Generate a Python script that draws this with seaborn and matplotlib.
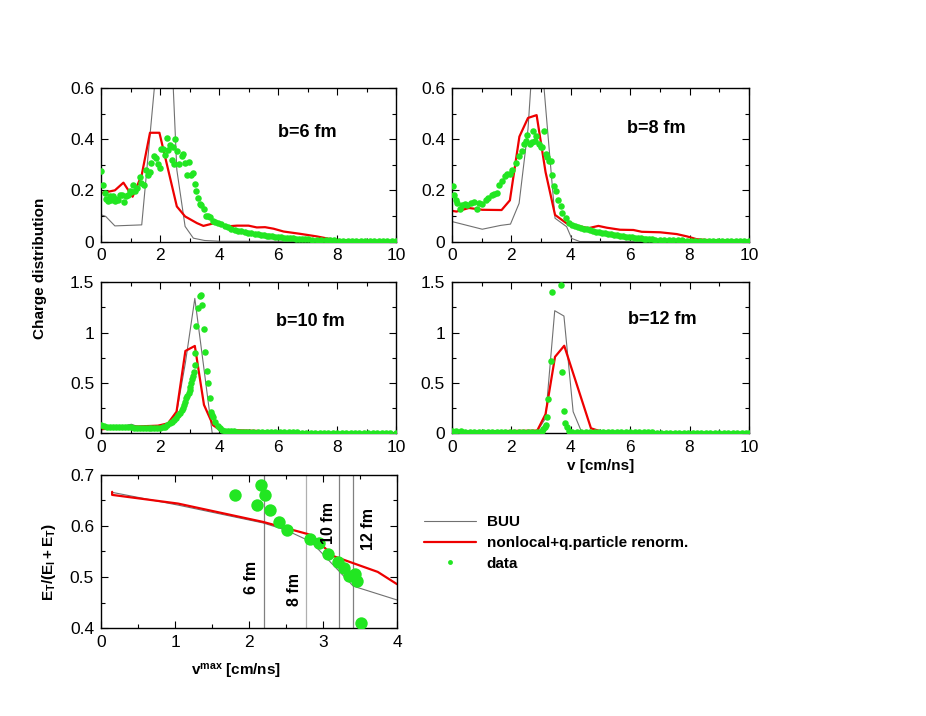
"""
Charge distributions vs velocity for four impact parameters, plus the
transverse energy ratio vs v_max (BUU vs nonlocal model vs data).
"""

import matplotlib

matplotlib.use("Agg")
import matplotlib.pyplot as plt
import seaborn as sns
from matplotlib.legend_handler import HandlerLine2D
from matplotlib.lines import Line2D
from matplotlib.ticker import FormatStrFormatter, FuncFormatter, MultipleLocator

# ---------------------------------------------------------------- data
# b = 6 fm
BUU_X6 = [0, 0.15, 0.46, 1.37, 1.95, 2.25, 2.56, 2.84, 3.12, 3.5, 4.0, 10]
BUU_Y6 = [0.104, 0.098, 0.061, 0.065, 0.79, 1.1, 0.28, 0.059, 0.013, 0.004, 0.001, 0.0]
RED_X6 = [0, 0.46, 0.75, 1.06, 1.37, 1.65, 1.97, 2.56, 2.84, 3.24, 3.46, 3.91, 4.25,
          4.6, 4.99, 5.27, 5.55, 5.84, 6.18, 6.74, 7.3, 7.65, 7.99, 8.78, 10]
RED_Y6 = [0.189, 0.2, 0.23, 0.175, 0.26, 0.425, 0.425, 0.137, 0.098, 0.072, 0.061, 0.074,
          0.059, 0.062, 0.062, 0.055, 0.056, 0.05, 0.039, 0.03, 0.02, 0.012, 0.006, 0.003, 0.001]
DAT_X6 = [0.0, 0.06, 0.11, 0.17, 0.23, 0.28, 0.34, 0.40, 0.45, 0.51,
          0.57, 0.62, 0.70, 0.77, 0.85, 0.91, 0.96, 1.02, 1.08, 1.13,
          1.22, 1.30, 1.36, 1.44, 1.51, 1.58, 1.64, 1.70, 1.79, 1.87,
          1.92, 1.98, 2.01, 2.09, 2.15, 2.21, 2.26, 2.32, 2.38, 2.43,
          2.47, 2.51, 2.58, 2.64, 2.72, 2.77, 2.85, 2.92, 2.98, 3.03,
          3.11, 3.17, 3.22, 3.28, 3.34, 3.39, 3.48, 3.56, 3.62, 3.67,
          3.79, 3.87, 3.96, 4.07, 4.19, 4.30, 4.41, 4.53, 4.64, 4.75,
          4.87, 4.98, 5.09, 5.2, 5.3, 5.4, 5.5, 5.6, 5.7, 5.8,
          5.9, 6.0, 6.1, 6.2, 6.3, 6.4, 6.5, 6.6, 6.7, 6.8,
          6.9, 7.0, 7.15, 7.3, 7.45, 7.6, 7.75, 7.9, 8.05, 8.2,
          8.35, 8.5, 8.65, 8.8, 8.95, 9.1, 9.25, 9.4, 9.55, 9.7,
          9.85, 10.0]
DAT_Y6 = [0.277, 0.220, 0.190, 0.167, 0.157, 0.176, 0.163, 0.176, 0.157, 0.165,
          0.163, 0.180, 0.182, 0.154, 0.176, 0.182, 0.196, 0.194, 0.222, 0.199,
          0.209, 0.252, 0.229, 0.222, 0.279, 0.261, 0.270, 0.308, 0.334, 0.325,
          0.301, 0.288, 0.360, 0.360, 0.338, 0.406, 0.357, 0.377, 0.320, 0.371,
          0.301, 0.400, 0.355, 0.303, 0.336, 0.342, 0.308, 0.261, 0.311, 0.261,
          0.268, 0.224, 0.198, 0.169, 0.147, 0.143, 0.128, 0.100, 0.098, 0.094,
          0.081, 0.076, 0.072, 0.068, 0.059, 0.055, 0.050, 0.046, 0.043, 0.040,
          0.037, 0.034, 0.032, 0.030, 0.028, 0.026, 0.025, 0.023, 0.021, 0.020,
          0.018, 0.017, 0.016, 0.015, 0.014, 0.013, 0.012, 0.011, 0.010, 0.010,
          0.009, 0.008, 0.007, 0.006, 0.006, 0.005, 0.004, 0.004, 0.003, 0.003,
          0.003, 0.002, 0.002, 0.002, 0.002, 0.001, 0.001, 0.001, 0.001, 0.001,
          0.001, 0.001]

# b = 8 fm
BUU_X8 = [0, 1.02, 1.64, 1.97, 2.26, 2.56, 2.85, 3.15, 3.47, 3.86, 4.03, 4.3, 10]
BUU_Y8 = [0.078, 0.048, 0.063, 0.068, 0.149, 0.44, 0.95, 0.53, 0.091, 0.058, 0.012, 0.0, 0.0]
RED_X8 = [0, 0.15, 0.57, 1.02, 1.67, 1.95, 2.27, 2.56, 2.85, 3.15, 3.47, 3.86, 4.59,
          4.93, 5.21, 5.66, 6.11, 6.39, 7.01, 7.57, 7.91, 8.24, 8.69, 10]
RED_Y8 = [0.12, 0.117, 0.131, 0.124, 0.123, 0.161, 0.41, 0.483, 0.494, 0.272, 0.104, 0.071,
          0.052, 0.061, 0.054, 0.046, 0.045, 0.038, 0.036, 0.029, 0.02, 0.009, 0.005, 0.003]
DAT_X8 = [0.03, 0.07, 0.12, 0.17, 0.26, 0.35, 0.44, 0.52, 0.63, 0.74,
          0.85, 0.91, 1.02, 1.13, 1.22, 1.34, 1.41, 1.53, 1.58, 1.69,
          1.78, 1.86, 1.95, 2.03, 2.14, 2.26, 2.35, 2.42, 2.48, 2.54,
          2.62, 2.68, 2.73, 2.79, 2.84, 2.93, 2.99, 3.04, 3.10, 3.15,
          3.21, 3.27, 3.33, 3.38, 3.43, 3.49, 3.58, 3.66, 3.72, 3.83,
          3.94, 4.05, 4.15, 4.25, 4.35, 4.45, 4.55, 4.65, 4.75, 4.85,
          4.95, 5.05, 5.15, 5.25, 5.35, 5.45, 5.55, 5.65, 5.75, 5.85,
          5.95, 6.05, 6.15, 6.25, 6.35, 6.45, 6.55, 6.65, 6.75, 6.85,
          7.0, 7.15, 7.3, 7.45, 7.6, 7.75, 7.9, 8.05, 8.2, 8.35,
          8.5, 8.65, 8.8, 8.95, 9.1, 9.25, 9.4, 9.55, 9.7, 9.85, 10.0]
DAT_Y8 = [0.216, 0.183, 0.163, 0.150, 0.128, 0.144, 0.146, 0.141, 0.150, 0.154,
          0.128, 0.150, 0.146, 0.163, 0.172, 0.183, 0.185, 0.189, 0.222, 0.235,
          0.255, 0.264, 0.262, 0.280, 0.308, 0.334, 0.353, 0.380, 0.393, 0.415,
          0.383, 0.390, 0.432, 0.393, 0.412, 0.383, 0.370, 0.368, 0.432, 0.343,
          0.330, 0.316, 0.316, 0.259, 0.216, 0.199, 0.163, 0.137, 0.111, 0.091,
          0.072, 0.065, 0.060, 0.056, 0.053, 0.050, 0.047, 0.044, 0.041, 0.039,
          0.037, 0.035, 0.033, 0.031, 0.029, 0.027, 0.025, 0.023, 0.021, 0.019,
          0.017, 0.016, 0.015, 0.013, 0.012, 0.011, 0.010, 0.009, 0.008, 0.007,
          0.006, 0.006, 0.005, 0.005, 0.004, 0.004, 0.003, 0.003, 0.003, 0.002,
          0.002, 0.002, 0.002, 0.001, 0.001, 0.001, 0.001, 0.001, 0.001, 0.001, 0.001]

# b = 10 fm
BUU_X10 = [0, 0.5, 1.02, 1.25, 1.92, 2.26, 2.55, 2.85, 3.17, 3.48, 3.76, 10]
BUU_Y10 = [0.04, 0.055, 0.09, 0.066, 0.056, 0.072, 0.2, 0.7, 1.34, 0.64, 0.0, 0.0]
RED_X10 = [0, 1.02, 1.92, 2.26, 2.55, 2.85, 3.17, 3.48, 3.79, 4.07, 4.6, 5.2, 6.0, 7.0, 8.0, 10]
RED_Y10 = [0.04, 0.066, 0.076, 0.099, 0.215, 0.818, 0.868, 0.283, 0.08, 0.025, 0.03,
           0.025, 0.012, 0.008, 0.004, 0.002]
DAT_X10 = [0.0, 0.1, 0.2, 0.3, 0.4, 0.5, 0.6, 0.7, 0.8, 0.9,
           1.0, 1.1, 1.2, 1.3, 1.4, 1.5, 1.6, 1.7, 1.8, 1.9,
           2.0, 2.08, 2.15, 2.24, 2.32, 2.40, 2.47, 2.54, 2.60, 2.66,
           2.72, 2.77, 2.81, 2.85, 2.88, 2.92, 2.96, 2.99, 3.02, 3.05,
           3.08, 3.11, 3.13, 3.16, 3.18, 3.22, 3.28, 3.34, 3.39, 3.43,
           3.48, 3.53, 3.58, 3.62, 3.68, 3.73, 3.76, 3.79, 3.85, 3.94,
           4.02, 4.1, 4.19, 4.3, 4.4, 4.5, 4.6, 4.7, 4.8, 4.9,
           5.0, 5.15, 5.3, 5.45, 5.6, 5.75, 5.9, 6.05, 6.2, 6.35,
           6.5, 6.65, 6.8, 6.95, 7.1, 7.25, 7.4, 7.55, 7.7, 7.85,
           8.0, 8.15, 8.3, 8.45, 8.6, 8.75, 8.9, 9.05, 9.2, 9.35, 9.5, 9.65, 9.8, 10.0]
DAT_Y10 = [0.083, 0.070, 0.066, 0.064, 0.063, 0.062, 0.061, 0.060, 0.060, 0.059,
           0.058, 0.057, 0.056, 0.055, 0.054, 0.053, 0.052, 0.051, 0.050, 0.050,
           0.052, 0.058, 0.066, 0.082, 0.099, 0.115, 0.132, 0.155, 0.182, 0.205,
           0.232, 0.255, 0.282, 0.315, 0.349, 0.375, 0.398, 0.430, 0.465, 0.500,
           0.536, 0.570, 0.606, 0.680, 0.800, 1.070, 1.240, 1.364, 1.374, 1.275,
           1.040, 0.804, 0.623, 0.503, 0.354, 0.208, 0.180, 0.165, 0.115, 0.075,
           0.048, 0.033, 0.025, 0.022, 0.020, 0.019, 0.018, 0.017, 0.016, 0.015,
           0.014, 0.014, 0.013, 0.013, 0.012, 0.012, 0.011, 0.011, 0.010, 0.010,
           0.009, 0.009, 0.008, 0.008, 0.007, 0.007, 0.006, 0.006, 0.006, 0.005,
           0.005, 0.005, 0.004, 0.004, 0.004, 0.004, 0.003, 0.003, 0.003, 0.003,
           0.003, 0.002, 0.002, 0.002]

# b = 12 fm
BUU_X12 = [0, 2.87, 3.15, 3.46, 3.77, 4.08, 4.37, 10]
BUU_Y12 = [0.01, 0.02, 0.15, 1.218, 1.165, 0.215, 0.01, 0.0]
RED_X12 = [0, 2.87, 3.15, 3.47, 3.78, 4.68, 5.0, 6.0, 10]
RED_Y12 = [0.015, 0.027, 0.19, 0.76, 0.87, 0.05, 0.02, 0.01, 0.005]
DAT_X12 = [0.0, 0.15, 0.3, 0.45, 0.6, 0.75, 0.9, 1.05, 1.2, 1.35,
           1.5, 1.65, 1.8, 1.95, 2.1, 2.25, 2.4, 2.55, 2.7, 2.85,
           2.95, 3.02, 3.08, 3.12, 3.15, 3.19, 3.24, 3.32, 3.38, 3.68,
           3.71, 3.77, 3.80, 3.86, 3.94, 4.05, 4.2, 4.35, 4.5, 4.65,
           4.8, 4.95, 5.1, 5.25, 5.4, 5.55, 5.7, 5.85, 6.0, 6.15,
           6.3, 6.45, 6.6, 6.75, 6.9, 7.05, 7.2, 7.35, 7.5, 7.65,
           7.8, 7.95, 8.1, 8.25, 8.4, 8.55, 8.7, 8.85, 9.0, 9.15,
           9.3, 9.45, 9.6, 9.75, 9.9, 10.0]
DAT_Y12 = [0.022, 0.020, 0.019, 0.018, 0.018, 0.017, 0.017, 0.016, 0.016, 0.015,
           0.015, 0.014, 0.014, 0.013, 0.013, 0.013, 0.012, 0.012, 0.013, 0.015,
           0.018, 0.025, 0.040, 0.060, 0.080, 0.166, 0.338, 0.718, 1.407, 1.473,
           0.612, 0.225, 0.105, 0.060, 0.027, 0.018, 0.015, 0.014, 0.013, 0.013,
           0.012, 0.012, 0.012, 0.011, 0.011, 0.011, 0.010, 0.010, 0.010, 0.010,
           0.009, 0.009, 0.009, 0.009, 0.008, 0.008, 0.008, 0.008, 0.008, 0.007,
           0.007, 0.007, 0.007, 0.007, 0.007, 0.006, 0.006, 0.006, 0.006, 0.006,
           0.006, 0.006, 0.006, 0.006, 0.006, 0.006]

# E_T/(E_l+E_T) vs v_max
BUU_VMAX = [0.15, 1.04, 2.19, 2.5, 2.84, 3.41, 4.0]
BUU_RATIO = [0.666, 0.641, 0.606, 0.592, 0.569, 0.482, 0.455]
RED_VMAX = [0.15, 0.15, 1.04, 2.19, 2.80, 2.86, 3.14, 3.74, 4.0]
RED_RATIO = [0.667, 0.661, 0.644, 0.608, 0.584, 0.580, 0.541, 0.51, 0.486]
DATA_VMAX = [1.81, 2.16, 2.21, 2.11, 2.29, 2.41, 2.51, 2.83, 2.94, 3.07, 3.20, 3.29,
             3.35, 3.43, 3.46, 3.52]
DATA_RATIO = [0.661, 0.680, 0.660, 0.641, 0.631, 0.608, 0.592, 0.575, 0.567, 0.545,
              0.530, 0.517, 0.502, 0.505, 0.492, 0.410]
B_MARK_V = [2.2, 2.77, 3.21, 3.41]
B_MARK_LABELS = ["6 fm", "8 fm", "10 fm", "12 fm"]

PANELS = [
    ("b=6 fm", BUU_X6, BUU_Y6, RED_X6, RED_Y6, DAT_X6, DAT_Y6),
    ("b=8 fm", BUU_X8, BUU_Y8, RED_X8, RED_Y8, DAT_X8, DAT_Y8),
    ("b=10 fm", BUU_X10, BUU_Y10, RED_X10, RED_Y10, DAT_X10, DAT_Y10),
    ("b=12 fm", BUU_X12, BUU_Y12, RED_X12, RED_Y12, DAT_X12, DAT_Y12),
]

GRAY = "#707070"
RED = "#ee0000"
GREEN = "#22e622"
FONT = "Liberation Sans"

sns.set_style("ticks")
plt.rcParams["font.family"] = [FONT, "DejaVu Sans"]
plt.rcParams["text.color"] = "black"
plt.rcParams["axes.labelcolor"] = "black"
plt.rcParams["xtick.color"] = "black"
plt.rcParams["ytick.color"] = "black"
plt.rcParams["mathtext.fontset"] = "custom"
plt.rcParams["mathtext.rm"] = f"{FONT}:bold"
plt.rcParams["mathtext.bf"] = f"{FONT}:bold"
plt.rcParams["mathtext.it"] = f"{FONT}:bold"
plt.rcParams["mathtext.default"] = "bf"


class RightDotHandler(HandlerLine2D):
    """Legend entry with the single marker near the right end (gnuplot-like)."""

    def get_xdata(self, legend, xdescent, ydescent, width, height, fontsize):
        xdata, _ = super().get_xdata(legend, xdescent, ydescent, width, height, fontsize)
        return xdata, [0.78 * width - xdescent]


def style_axes(ax, xmajor, xminor, ymajor, yminor):
    ax.xaxis.set_major_locator(MultipleLocator(xmajor))
    ax.xaxis.set_minor_locator(MultipleLocator(xminor))
    ax.yaxis.set_major_locator(MultipleLocator(ymajor))
    ax.yaxis.set_minor_locator(MultipleLocator(yminor))
    ax.yaxis.set_major_formatter(FuncFormatter(lambda v, _: f"{v:g}"))
    ax.xaxis.set_major_formatter(FuncFormatter(lambda v, _: f"{v:g}"))
    ax.tick_params(which="both", direction="in", top=True, right=True,
                   labelsize=12.5, width=0.8, colors="black")
    ax.tick_params(which="major", length=5, pad=5)
    ax.tick_params(which="minor", length=3)
    for sp in ax.spines.values():
        sp.set_linewidth(1.0)
        sp.set_color("black")
    ax.set_xlabel("")
    ax.set_ylabel("")


fig = plt.figure(figsize=(9.26, 7.16), dpi=100)
positions = [
    [0.1094, 0.6627, 0.3186, 0.2144],
    [0.4881, 0.6627, 0.3207, 0.2144],
    [0.1094, 0.3948, 0.3186, 0.2109],
    [0.4881, 0.3948, 0.3207, 0.2109],
]
label_pos = [(6.97, 0.426), (6.89, 0.441), (7.08, 1.109), (7.09, 1.13)]

for i, (title, bx, by, rx, ry, dx, dy) in enumerate(PANELS):
    ax = fig.add_axes(positions[i])
    sns.lineplot(x=bx, y=by, ax=ax, color=GRAY, linewidth=0.8,
                 sort=False, estimator=None)
    sns.lineplot(x=rx, y=ry, ax=ax, color=RED, linewidth=1.6,
                 sort=False, estimator=None)
    sns.scatterplot(x=dx, y=dy, ax=ax, color=GREEN, s=22, linewidth=0, zorder=3)
    ymax = 0.6 if i < 2 else 1.5
    ax.set_xlim(0, 10)
    ax.set_ylim(0, ymax)
    if i < 2:
        style_axes(ax, 2, 1, 0.2, 0.1)
    else:
        style_axes(ax, 2, 1, 0.5, 0.25)
    ax.text(*label_pos[i], title, ha="center", va="center",
            fontsize=13, fontweight="bold")
    if i == 3:
        ax.set_xlabel("v [cm/ns]", fontsize=11, fontweight="bold", labelpad=3)

fig.text(40 / 926, 1 - 268 / 716, "Charge distribution", rotation=90,
         ha="center", va="center", fontsize=11, fontweight="bold")

# bottom panel: energy ratio
ax5 = fig.add_axes([0.1091, 0.1229, 0.3196, 0.2137])
for k, v in enumerate(B_MARK_V):
    ax5.axvline(v, color="#b0b0b0" if k == 1 else "#808080", linewidth=0.9, zorder=1)
sns.lineplot(x=BUU_VMAX, y=BUU_RATIO, ax=ax5, color=GRAY, linewidth=0.8,
             sort=False, estimator=None)
sns.lineplot(x=RED_VMAX, y=RED_RATIO, ax=ax5, color=RED, linewidth=1.6,
             sort=False, estimator=None)
sns.scatterplot(x=DATA_VMAX, y=DATA_RATIO, ax=ax5, color=GREEN, s=80,
                linewidth=0, zorder=3)
ax5.set_xlim(0, 4)
ax5.set_ylim(0.4, 0.7)
style_axes(ax5, 1, 0.5, 0.1, 0.05)
ax5.yaxis.set_major_formatter(FormatStrFormatter("%.1f"))
ax5.set_ylabel(r"$E_T/(E_l+E_T)$", fontsize=11, fontweight="bold")
ax5.yaxis.set_label_coords(-0.145, 0.43)
ax5.set_xlabel(r"$v^{max}$ [cm/ns]", fontsize=11, fontweight="bold")
ax5.xaxis.set_label_coords(0.456, -0.22)

mark_text_pos = [(2.03, 0.50), (2.62, 0.475), (3.07, 0.605), (3.62, 0.595)]
for (tx, ty), lab in zip(mark_text_pos, B_MARK_LABELS):
    ax5.text(tx, ty, lab, rotation=90, ha="center", va="center",
             fontsize=11.5, fontweight="bold")

dot_handle = Line2D([], [], color=GREEN, linestyle="none", marker="o",
                    markersize=3.5, markeredgewidth=0)
handles = [
    Line2D([], [], color=GRAY, linewidth=0.8),
    Line2D([], [], color=RED, linewidth=1.6),
    dot_handle,
]
fig.legend(handles, ["BUU", "nonlocal+q.particle renorm.", "data"],
           loc="upper left", bbox_to_anchor=(424 / 926, 1 - 515 / 716),
           frameon=False, borderpad=0, borderaxespad=0, handlelength=3.4,
           handletextpad=0.7, labelspacing=0.45,
           handler_map={dot_handle: RightDotHandler()},
           prop={"family": FONT, "weight": "bold", "size": 11})

fig.savefig("out.png", dpi=100)
